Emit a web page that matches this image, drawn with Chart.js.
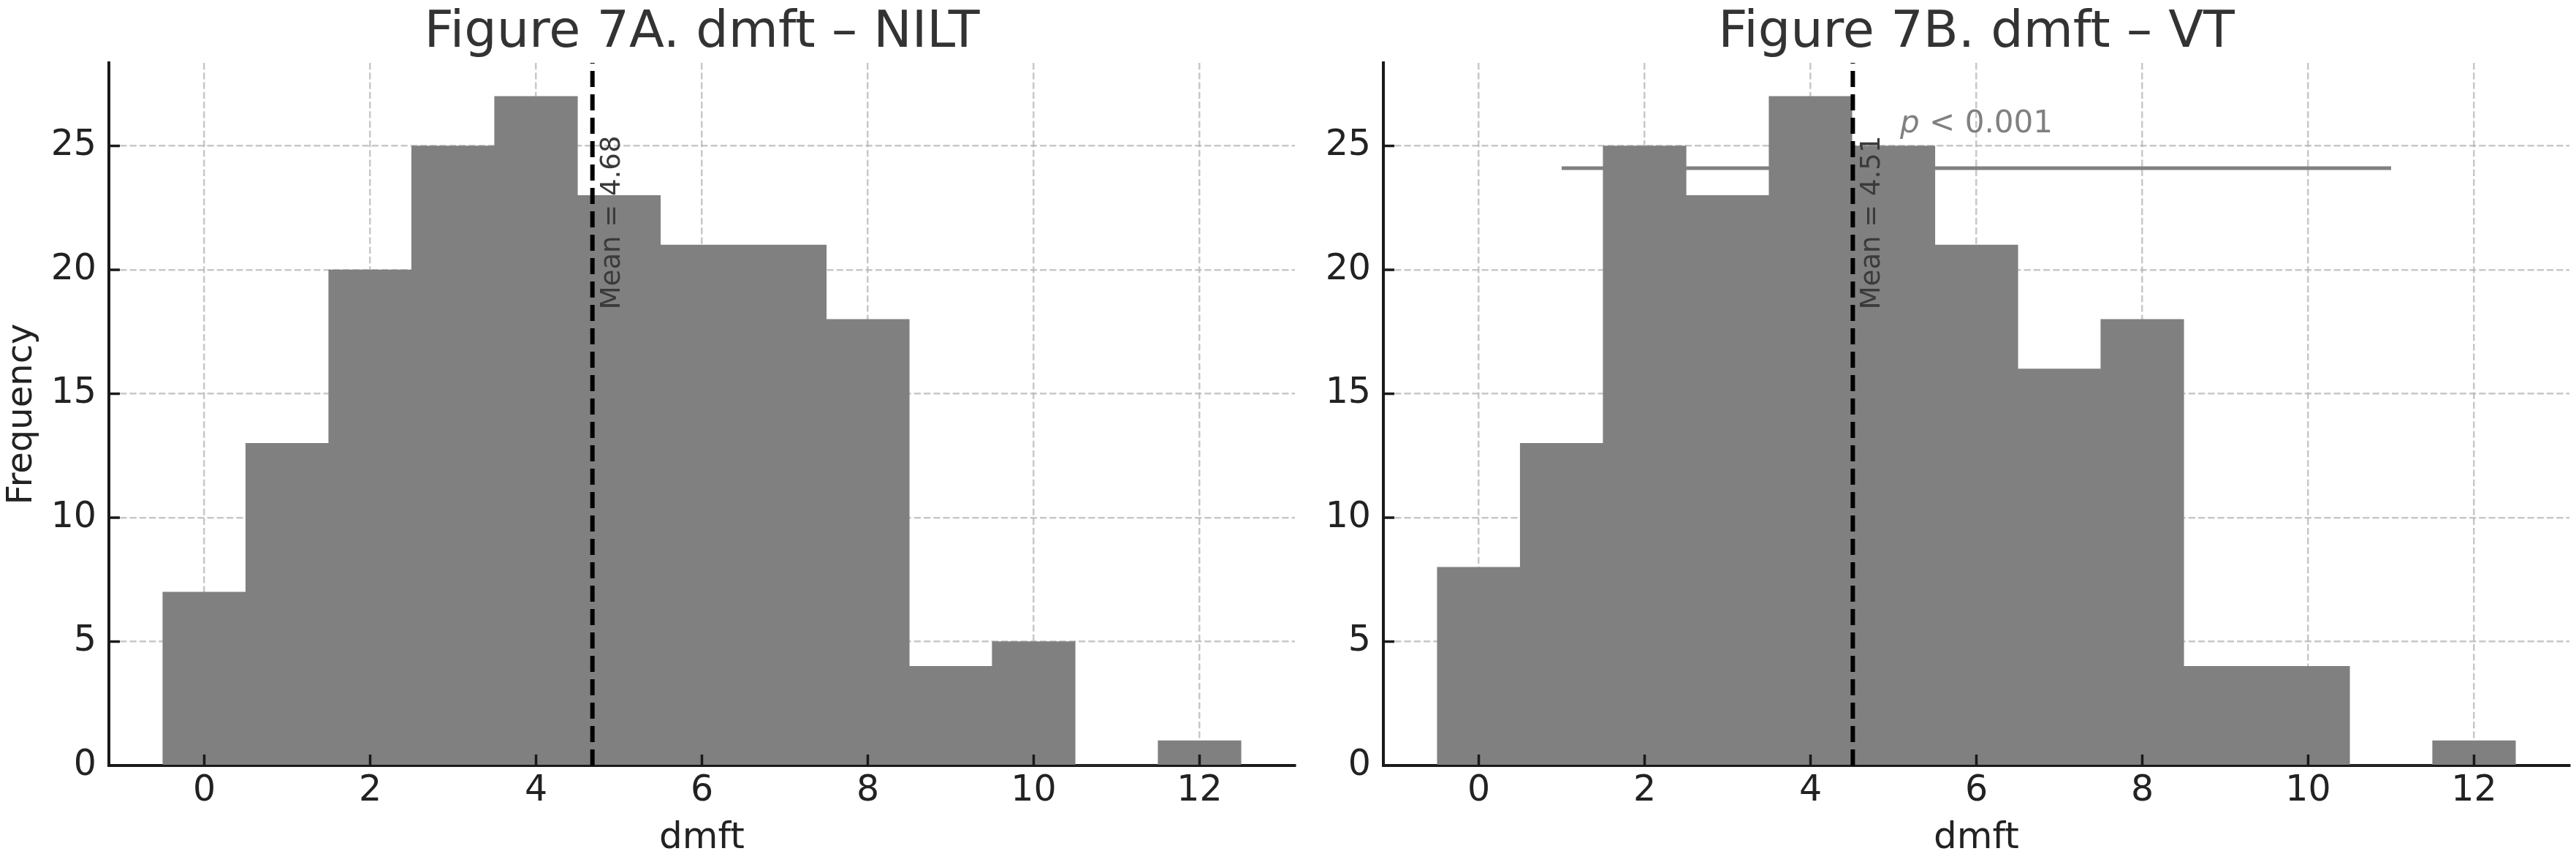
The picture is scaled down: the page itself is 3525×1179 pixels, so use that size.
<!DOCTYPE html>
<html><head><meta charset="utf-8">
<script src="https://cdn.jsdelivr.net/npm/chart.js@4.4.1/dist/chart.umd.min.js"></script>
<style>
html,body{margin:0;padding:0;background:#fff;}
body{width:3525px;height:1179px;position:relative;overflow:hidden;}
#wrapA{position:absolute;left:0;top:0;width:1800px;height:1179px;}
#wrapB{position:absolute;left:1800px;top:0;width:1725px;height:1179px;}
</style></head><body>
<div id="wrapA"><canvas id="cA" width="1800" height="1179"></canvas></div>
<div id="wrapB"><canvas id="cB" width="1725" height="1179"></canvas></div>
<script>
// ---- data ----
const dmftBins   = [0, 1, 2, 3, 4, 5, 6, 7, 8, 9, 10, 11, 12];
const niltCounts = [7, 13, 20, 25, 27, 23, 21, 21, 18, 4, 5, 0, 1];
const vtCounts   = [8, 13, 25, 23, 27, 25, 21, 16, 18, 4, 4, 0, 1];
const xTicks = [0, 2, 4, 6, 8, 10, 12];
const yTicks = [0, 5, 10, 15, 20, 25];
const niltMean = 4.68;
const vtMean = 4.51;
const titles = ['Figure 7A. dmft \u2013 NILT', 'Figure 7B. dmft \u2013 VT'];
const xLabel = 'dmft';
const yLabel = 'Frequency';
const meanLabels = ['Mean = 4.68', 'Mean = 4.51'];
const pItalic = 'p';
const pRest = ' < 0.001';
const pLineX = [1, 11];
const pLineY = 24.1;
const pTextX = 6;
const pTextY = 25.55;
const meanTextY = 18.4;
const xRange = [-1.15, 13.15];
const yRange = [0, 28.35];

const FONT = "'DejaVu Sans', sans-serif";

function makeOverlay(mean, meanLabel, showP) {
  return {
    id: 'overlay',
    afterDraw(chart) {
      const ctx = chart.ctx, xs = chart.scales.x, ys = chart.scales.y, a = chart.chartArea;
      ctx.save();
      // inward ticks
      ctx.strokeStyle = '#1a1a1a';
      ctx.lineWidth = 3.5;
      xs.ticks.forEach(t => {
        const px = xs.getPixelForValue(t.value);
        ctx.beginPath(); ctx.moveTo(px, a.bottom); ctx.lineTo(px, a.bottom - 15); ctx.stroke();
      });
      ys.ticks.forEach(t => {
        const py = ys.getPixelForValue(t.value);
        ctx.beginPath(); ctx.moveTo(a.left, py); ctx.lineTo(a.left + 15, py); ctx.stroke();
      });
      // p-value bracket line
      if (showP) {
        ctx.strokeStyle = '#808080';
        ctx.lineWidth = 5;
        const py = ys.getPixelForValue(pLineY);
        ctx.beginPath();
        ctx.moveTo(xs.getPixelForValue(pLineX[0]), py);
        ctx.lineTo(xs.getPixelForValue(pLineX[1]), py);
        ctx.stroke();
        ctx.font = `italic 42px ${FONT}`;
        const w1 = ctx.measureText(pItalic).width;
        ctx.font = `42px ${FONT}`;
        const w2 = ctx.measureText(pRest).width;
        const cx = xs.getPixelForValue(pTextX), by = ys.getPixelForValue(pTextY);
        const sx = cx - (w1 + w2) / 2;
        ctx.fillStyle = '#808080';
        ctx.textAlign = 'left';
        ctx.textBaseline = 'alphabetic';
        ctx.font = `italic 42px ${FONT}`;
        ctx.fillText(pItalic, sx, by);
        ctx.font = `42px ${FONT}`;
        ctx.fillText(pRest, sx + w1, by);
      }
      // mean line
      const mx = xs.getPixelForValue(mean);
      ctx.strokeStyle = '#000';
      ctx.lineWidth = 6;
      ctx.setLineDash([22, 10]);
      ctx.beginPath(); ctx.moveTo(mx, a.bottom); ctx.lineTo(mx, a.top); ctx.stroke();
      ctx.setLineDash([]);
      // mean label
      ctx.save();
      ctx.translate(mx + 37, ys.getPixelForValue(meanTextY));
      ctx.rotate(-Math.PI / 2);
      ctx.font = `37px ${FONT}`;
      ctx.fillStyle = '#3a3a3a';
      ctx.textAlign = 'left';
      ctx.textBaseline = 'alphabetic';
      ctx.fillText(meanLabel, 0, 0);
      ctx.restore();
      ctx.restore();
    }
  };
}

function makeChart(canvasId, counts, mean, title, meanLabel, showP, showYTitle, yWidth, padRight) {
  return new Chart(document.getElementById(canvasId), {
    type: 'bar',
    data: {
      datasets: [{
        data: dmftBins.map((b, i) => ({x: b, y: counts[i]})),
        backgroundColor: '#808080',
        borderWidth: 0,
        barPercentage: 1,
        categoryPercentage: 1
      }]
    },
    options: {
      responsive: false,
      animation: false,
      layout: {padding: {left: 0, right: padRight, top: 0, bottom: 0}},
      plugins: {
        legend: {display: false},
        tooltip: {enabled: false},
        title: {
          display: true, text: title, fullSize: false, color: '#333333',
          font: {family: FONT, size: 70, weight: 'normal', lineHeight: 1},
          padding: {top: 10.8, bottom: 5.2}
        }
      },
      scales: {
        x: {
          type: 'linear', min: xRange[0], max: xRange[1], offset: false, z: 1,
          afterBuildTicks: s => { s.ticks = xTicks.map(v => ({value: v})); },
          afterFit: s => { s.height = 132; },
          ticks: {font: {family: FONT, size: 49}, color: '#222222', padding: 6, maxRotation: 0, autoSkip: false, callback: v => String(v)},
          grid: {color: 'rgba(176,176,176,0.7)', lineWidth: 2.5, drawTicks: false, offset: false},
          border: {display: true, color: '#1a1a1a', width: 4, dash: [9.25, 4]},
          title: {display: true, text: xLabel, color: '#222222', font: {family: FONT, size: 50}, padding: {top: 0, bottom: 1.5}}
        },
        y: {
          type: 'linear', min: yRange[0], max: yRange[1], z: 1,
          afterBuildTicks: s => { s.ticks = yTicks.map(v => ({value: v})); },
          afterFit: s => { s.width = yWidth; },
          ticks: {font: {family: FONT, size: 49}, color: '#222222', padding: 17, autoSkip: false, callback: v => String(v)},
          grid: {color: 'rgba(176,176,176,0.7)', lineWidth: 2.5, drawTicks: false},
          border: {display: true, color: '#1a1a1a', width: 4, dash: [9.25, 4]},
          title: {display: showYTitle, text: yLabel, color: '#222222', font: {family: FONT, size: 48}, padding: {top: 2, bottom: 0}}
        }
      }
    },
    plugins: [makeOverlay(mean, meanLabel, showP)]
  });
}

makeChart('cA', niltCounts, niltMean, titles[0], meanLabels[0], false, true, 149, 28);
makeChart('cB', vtCounts, vtMean, titles[1], meanLabels[1], true, false, 93, 9);
</script>
</body></html>
